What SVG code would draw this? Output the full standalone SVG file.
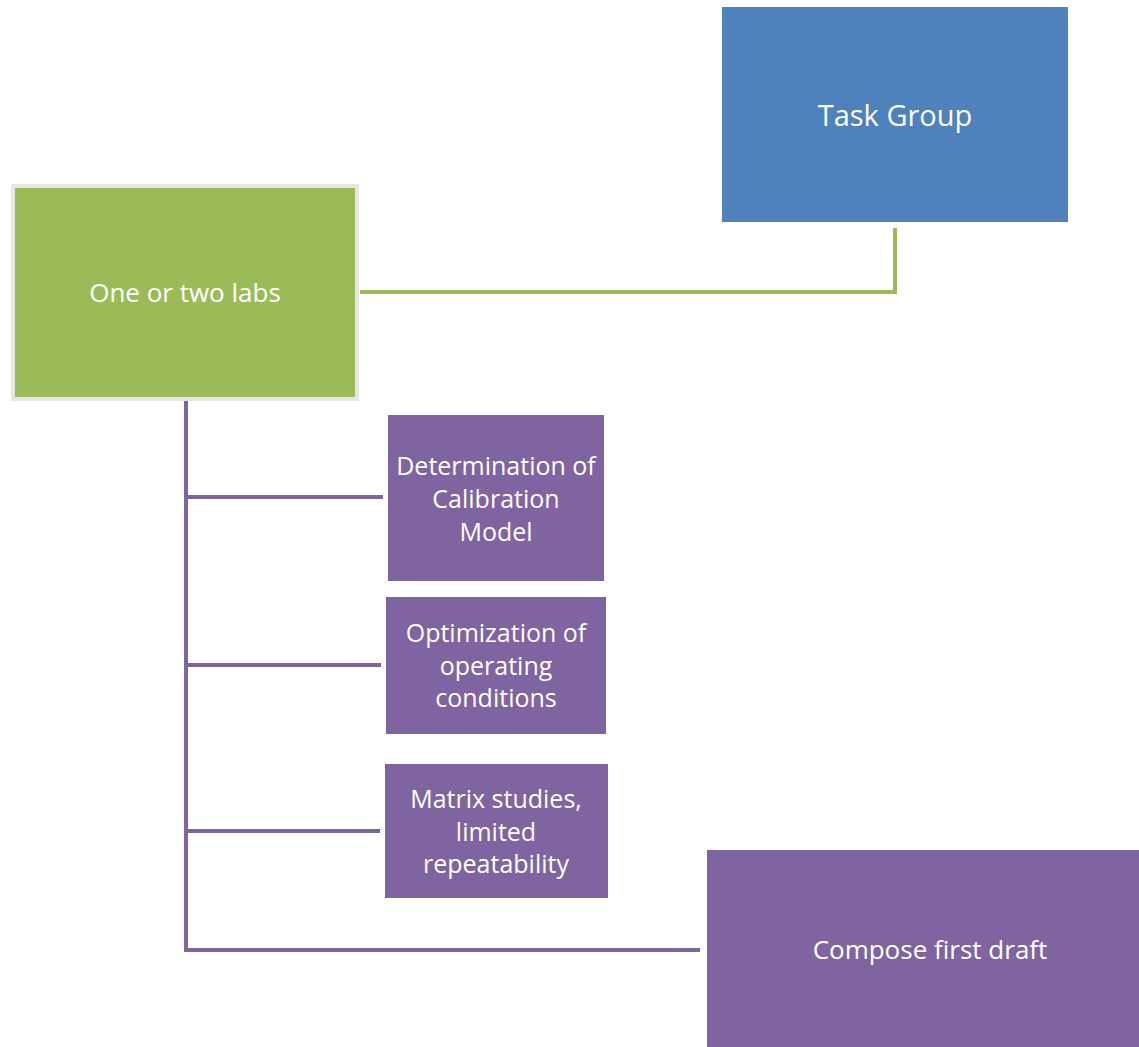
<svg xmlns="http://www.w3.org/2000/svg" width="1139" height="1047" viewBox="0 0 1139 1047">
<style>
text{font-family:"Open Sans","Noto Sans","DejaVu Sans",sans-serif;fill:#fff;text-anchor:middle;dominant-baseline:central}
.p{fill:#8064A2}
.t{font-size:25px}
.c{fill:none;stroke-width:4;stroke-linecap:butt;stroke-linejoin:miter}
</style>
<rect width="1139" height="1047" fill="#fff"/>
<g id="connectors">
<polyline class="c" stroke="#9BBB59" points="360,292 895,292 895,228"/>
<line class="c" stroke="#8064A2" x1="186" y1="401" x2="186" y2="952"/>
<line class="c" stroke="#8064A2" x1="184" y1="497" x2="383" y2="497"/>
<line class="c" stroke="#8064A2" x1="184" y1="665" x2="381" y2="665"/>
<line class="c" stroke="#8064A2" x1="184" y1="831" x2="380" y2="831"/>
<line class="c" stroke="#8064A2" x1="184" y1="950" x2="700" y2="950"/>
</g>
<g id="task-group">
<rect x="722" y="7" width="346" height="215" fill="#4F81BD"/>
<text x="895" y="114" style="font-size:29px">Task Group</text>
</g>
<g id="labs">
<rect x="13" y="186" width="344" height="213" fill="#9BBB59" stroke="#E6E6E6" stroke-width="4"/>
<text x="185" y="292" style="font-size:26px">One or two labs</text>
</g>
<g id="calibration">
<rect class="p" x="388" y="415" width="216" height="166"/>
<text class="t" x="496" y="465">Determination of</text>
<text class="t" x="496" y="498">Calibration</text>
<text class="t" x="496" y="531">Model</text>
</g>
<g id="optimization">
<rect class="p" x="386" y="597" width="220" height="137"/>
<text class="t" x="496" y="632">Optimization of</text>
<text class="t" x="496" y="665">operating</text>
<text class="t" x="496" y="697">conditions</text>
</g>
<g id="matrix">
<rect class="p" x="385" y="764" width="223" height="134"/>
<text class="t" x="496" y="798">Matrix studies,</text>
<text class="t" x="496" y="831">limited</text>
<text class="t" x="496" y="863">repeatability</text>
</g>
<g id="draft">
<rect class="p" x="707" y="850" width="432" height="197"/>
<text x="930" y="949" style="font-size:26px">Compose first draft</text>
</g>
</svg>
